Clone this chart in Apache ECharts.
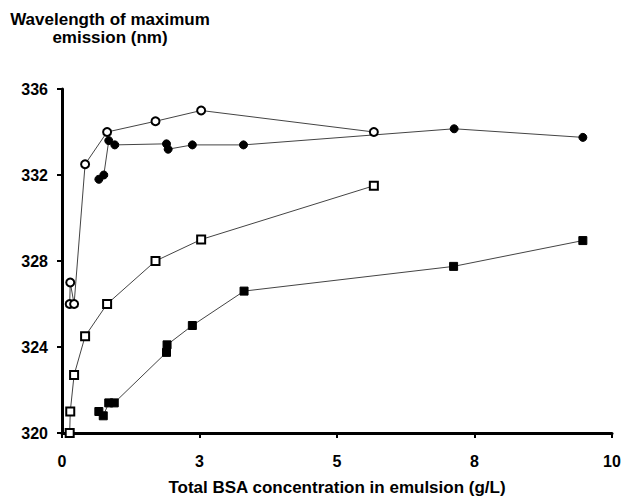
<!DOCTYPE html>
<html>
<head>
<meta charset="utf-8">
<script src="https://cdn.jsdelivr.net/npm/echarts@6/dist/echarts.min.js"></script>
<style>
html,body{margin:0;padding:0;background:#fff;}
#chart{width:627px;height:501px;}
</style>
</head>
<body>
<div id="chart"></div>
<script>
// ---- data ----
var openCircleX = [0.14, 0.15, 0.22, 0.42, 0.82, 1.70, 2.53, 5.67];
var openCircleY = [326.0, 327.0, 326.0, 332.5, 334.0, 334.5, 335.0, 334.0];

var filledCircleX = [0.67, 0.76, 0.85, 0.96, 1.90, 1.93, 2.37, 3.30, 7.13, 9.47];
var filledCircleY = [331.8, 332.0, 333.6, 333.4, 333.45, 333.2, 333.4, 333.4, 334.15, 333.75];

var openSquareX = [0.14, 0.15, 0.22, 0.42, 0.82, 1.70, 2.53, 5.67];
var openSquareY = [320.0, 321.0, 322.7, 324.5, 326.0, 328.0, 329.0, 331.5];

var filledSquareX = [0.67, 0.75, 0.85, 0.95, 1.90, 1.91, 2.37, 3.31, 7.12, 9.47];
var filledSquareY = [321.0, 320.8, 321.4, 321.4, 323.75, 324.1, 325.0, 326.6, 327.75, 328.95];

var xTickValues = [0, 2.5, 5, 7.5, 10];
var xTickLabels = ['0', '3', '5', '8', '10'];
var yTickLabels = ['320', '324', '328', '332', '336'];

var xAxisTitle = 'Total BSA concentration in emulsion (g/L)';
var yAxisTitle = 'Wavelength of maximum\nemission (nm)';

function pairs(xs, ys) {
  return xs.map(function (x, i) { return [x, ys[i]]; });
}

var FONT = 'Liberation Sans, Arial, Helvetica, sans-serif';

function lineSeries(name, xs, ys, symbol, size) {
  return {
    name: name,
    type: 'line',
    data: pairs(xs, ys),
    symbol: symbol,
    symbolSize: size,
    showAllSymbol: true,
    lineStyle: { color: '#444', width: 1 },
    itemStyle: { color: '#000', borderColor: '#000', borderWidth: 1 },
    z: 3,
    animation: false
  };
}

var chart = echarts.init(document.getElementById('chart'), null, { renderer: 'svg' });
chart.setOption({
  backgroundColor: '#fff',
  animation: false,
  grid: { left: 62, right: 15, top: 89, bottom: 64, containLabel: false },
  xAxis: {
    type: 'value',
    min: 0, max: 10, interval: 2.5,
    name: xAxisTitle,
    nameLocation: 'middle',
    nameGap: 46,
    nameTextStyle: { fontFamily: FONT, fontWeight: 'bold', fontSize: 17, color: '#000' },
    axisLine: { show: true, lineStyle: { color: '#000', width: 3 } },
    axisTick: { show: true, inside: false, length: 5, lineStyle: { color: '#000', width: 2 } },
    splitLine: { show: false },
    axisLabel: {
      margin: 20,
      fontFamily: FONT, fontWeight: 'bold', fontSize: 16, color: '#000',
      formatter: function (v) {
        var i = xTickValues.indexOf(v);
        return i >= 0 ? xTickLabels[i] : '';
      }
    }
  },
  yAxis: {
    type: 'value',
    min: 320, max: 336, interval: 4,
    axisLine: { show: true, lineStyle: { color: '#000', width: 3 } },
    axisTick: { show: true, inside: false, length: 5, lineStyle: { color: '#000', width: 2 } },
    splitLine: { show: false },
    axisLabel: {
      margin: 14,
      fontFamily: FONT, fontWeight: 'bold', fontSize: 16, color: '#000',
      formatter: function (v) {
        var i = Math.round((v - 320) / 4);
        return yTickLabels[i] !== undefined ? yTickLabels[i] : '';
      }
    }
  },
  graphic: [{
    type: 'text',
    x: 110,
    y: 10,
    style: {
      text: yAxisTitle,
      fill: '#000',
      font: 'bold 17px ' + FONT,
      textAlign: 'center',
      textVerticalAlign: 'top',
      lineHeight: 18
    }
  }],
  series: [
    lineSeries('openSquare', openSquareX, openSquareY, 'emptyRect', 8),
    lineSeries('filledSquare', filledSquareX, filledSquareY, 'rect', 8),
    lineSeries('filledCircle', filledCircleX, filledCircleY, 'circle', 8),
    lineSeries('openCircle', openCircleX, openCircleY, 'emptyCircle', 8)
  ]
});
</script>
</body>
</html>
